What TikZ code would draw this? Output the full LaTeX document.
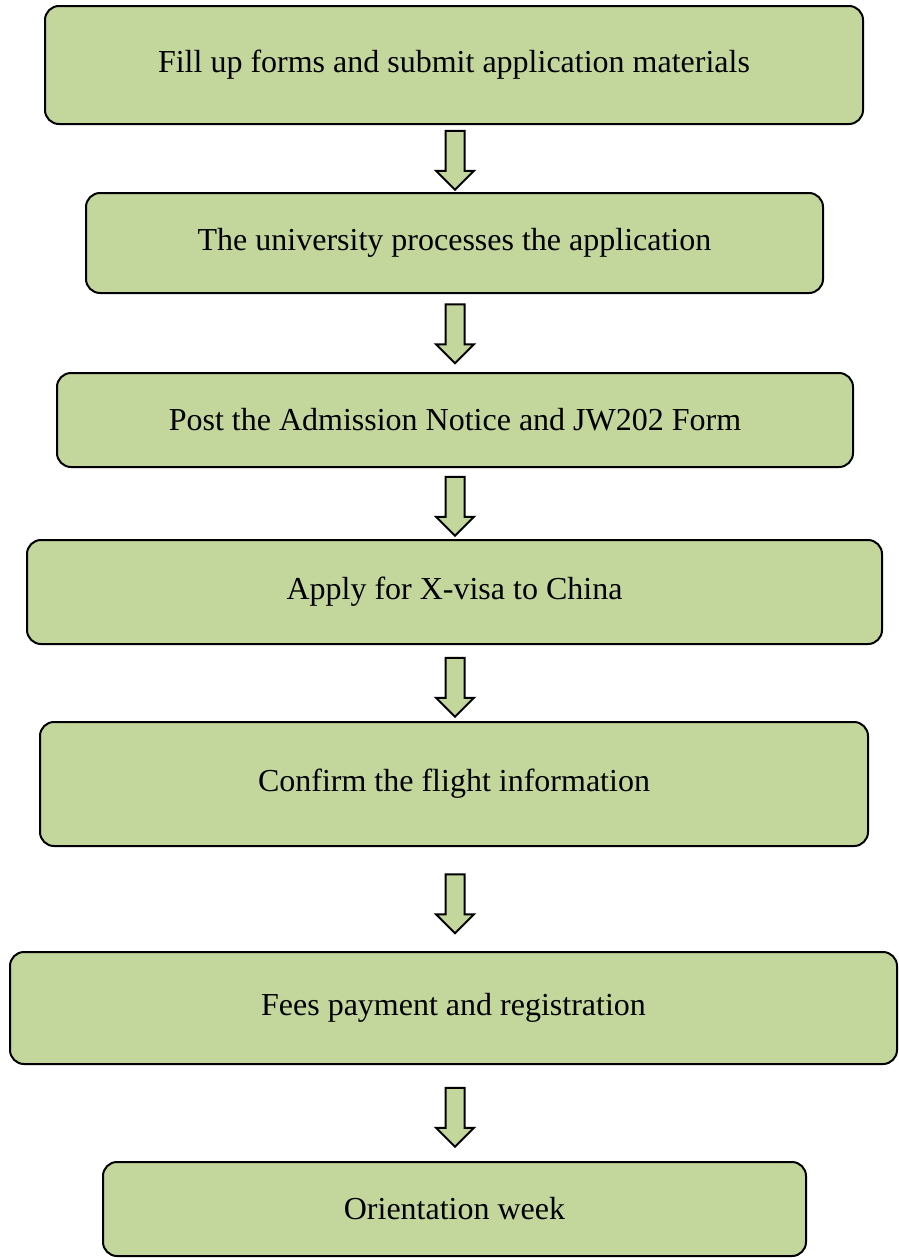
\documentclass[tikz,border=0pt]{standalone}
\usepackage{fontspec}
\setmainfont{Liberation Serif}
\usetikzlibrary{shapes.arrows}
\definecolor{stagegreen}{HTML}{C3D69B}

\begin{document}
\begin{tikzpicture}[x=0.5pt, y=-0.5pt,
    stage/.style={draw, line width=1pt, fill=stagegreen, rounded corners=7pt,
        font=\fontsize{16}{19}\selectfont, inner sep=0pt},
    downarrow/.style={single arrow, draw, line width=1pt, fill=stagegreen,
        rotate=-90, inner xsep=0pt, inner ysep=4.25pt, minimum height=29.5pt,
        minimum width=18pt, single arrow head extend=4.75pt}]
\useasboundingbox (0, 0) rectangle (899, 1258);

\node[stage, minimum width=409pt, minimum height=59pt] (forms) at (454, 65)
    {Fill up forms and submit application materials};
\node[stage, minimum width=368.5pt, minimum height=50pt] (process) at (454.5, 243)
    {The university processes the application};
\node[stage, minimum width=398pt, minimum height=47pt] (notice) at (455, 420)
    {Post the Admission Notice and JW202 Form};
\node[stage, minimum width=427.5pt, minimum height=52pt] (visa) at (454.5, 592)
    {Apply for X-visa to China};
\node[stage, minimum width=414pt, minimum height=62pt] (flight) at (454, 784)
    {Confirm the flight information};
\node[stage, minimum width=443.5pt, minimum height=56pt] (fees) at (453.5, 1008)
    {Fees payment and registration};
\node[stage, minimum width=351.5pt, minimum height=47pt] (week) at (454.5, 1209)
    {Orientation week};

\node[downarrow] (A_forms) at (455, 155.5) {};
\node[downarrow] (A_process) at (455, 329) {};
\node[downarrow] (A_notice) at (455, 501.5) {};
\node[downarrow] (A_visa) at (455, 682.5) {};
\node[downarrow] (A_flight) at (455, 899) {};
\node[downarrow] (A_fees) at (455, 1112.5) {};
\end{tikzpicture}
\end{document}
